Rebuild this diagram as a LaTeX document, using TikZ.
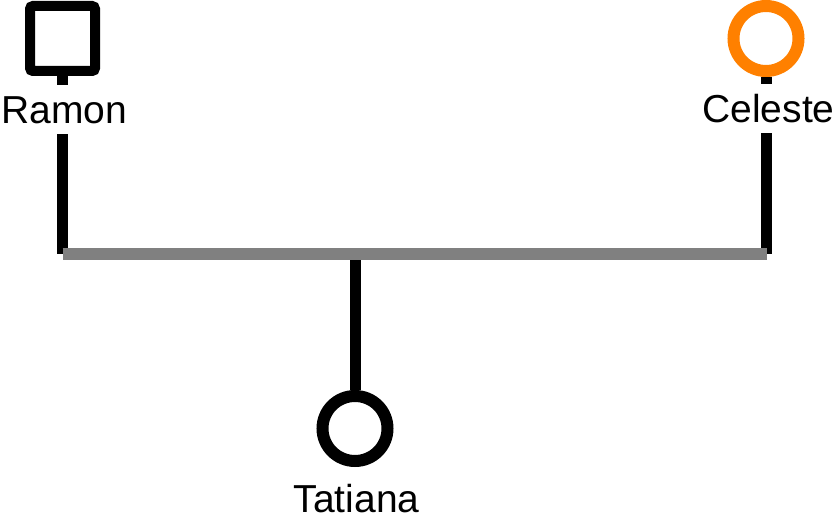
\documentclass[tikz,border=0pt]{standalone}
\usepackage{fontspec}
\setmainfont{Liberation Sans}
\definecolor{femaleorange}{HTML}{FF8000}
\definecolor{unionline}{HTML}{808080}
\begin{document}
\begin{tikzpicture}[x=1pt,y=-1pt,
  male/.style={draw=black,line width=10pt,rectangle,rounded corners=3pt,minimum size=65pt,inner sep=0pt},
  female/.style={draw=#1,line width=12pt,circle,minimum size=65pt,inner sep=0pt},
  namefont/.style={font=\fontsize{39}{46}\selectfont,inner sep=0pt},
  namelabel/.style={namefont,text height=39pt,text depth=10pt},
  stem/.style={line width=11pt,black},
  union/.style={line width=12pt,unionline}]
\useasboundingbox (0,0) rectangle (839,526);

% parents
\node[male] (ramon) at (62.5,38.5) {};
\node[female=femaleorange] (celeste) at (766,38.5) {};
\node[namelabel] (ramonL) at (64.5,124) [anchor=base] {Ramon};
\node[namelabel] (celesteL) at (768.5,123) [anchor=base] {Celeste};

% child
\node[female=black] (tatiana) at (355,428.5) {};
\node[namefont,anchor=base] (tatianaL) at (356.5,513) {Tatiana};

% union bar end points
\coordinate (barL) at (62.5,254);
\coordinate (barR) at (766.5,254);
\coordinate (barM) at (355,254);

% stems from the parents down to the bar
\draw[stem] (ramon.south) -- (ramon.south |- ramonL.north);
\draw[stem] (ramonL.south -| barL) -- (barL);
\draw[stem] (celeste.south) -- (celeste.south |- celesteL.north);
\draw[stem] (celesteL.south -| barR) -- (barR);
\draw[stem] (barM) -- (tatiana.north);

% union line
\draw[union] (barL) -- (barR);
\end{tikzpicture}
\end{document}
